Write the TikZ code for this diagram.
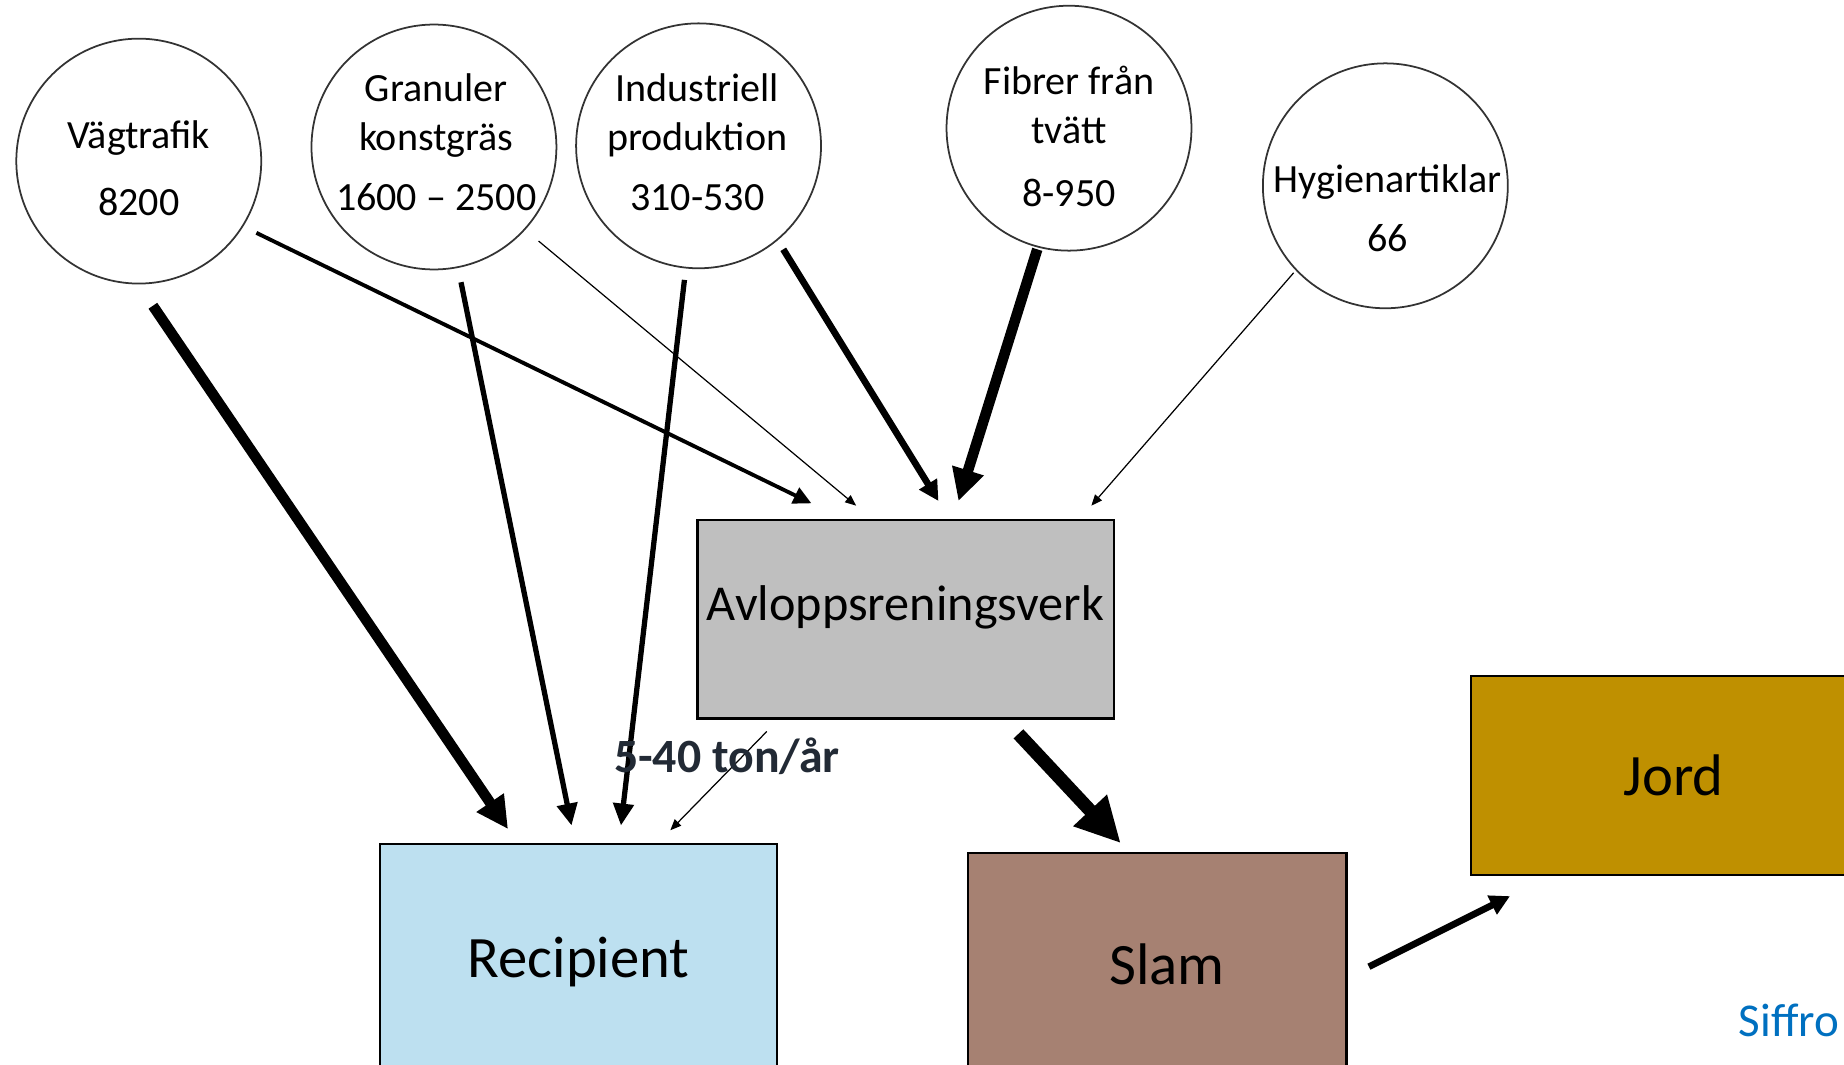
\documentclass[tikz,border=0pt]{standalone}
\usepackage{fontspec}
\setmainfont{Carlito}
\usetikzlibrary{arrows.meta, calc}

\definecolor{avlgray}{RGB}{191,191,191}
\definecolor{recblue}{RGB}{189,224,240}
\definecolor{slambrown}{RGB}{166,129,114}
\definecolor{jordgold}{RGB}{191,144,0}
\definecolor{siffblue}{RGB}{0,112,192}
\definecolor{fluxdark}{RGB}{34,42,53}

\begin{document}
\begin{tikzpicture}[x=0.01176cm, y=-0.01176cm,
    src/.style={circle, draw=black!80, line width=0.5pt, minimum size=2.45cm, inner sep=0pt},
    srctext/.style={align=center, font=\fontsize{11.4}{14}\selectfont},
    box/.style={draw, line width=0.6pt, inner sep=0pt, font=\fontsize{16.7}{20}\selectfont},
    hair/.style={line width=0.35pt, -{Triangle[length=1.1mm, width=0.9mm]}},
    mid/.style={line width=1.1pt, -{Triangle[length=1.8mm, width=1.7mm]}},
    stout/.style={line width=1.5pt, -{Triangle[length=2.2mm, width=2mm]}},
    fat/.style={line width=1.9pt, -{Triangle[length=2mm, width=2mm]}},
    huge/.style={line width=3pt, -{Triangle[length=3.2mm, width=3.1mm]}},
    heavy/.style={line width=3.8pt, -{Triangle[length=4.5mm, width=4.3mm]}}]
    \useasboundingbox (0,0) rectangle (1568,905);

    % sources
    \node[src] (veg) at (118,137) {};
    \node[src] (gran) at (369,125) {};
    \node[src] (ind) at (594,124) {};
    \node[src] (fib) at (909,109) {};
    \node[src] (hyg) at (1178,158) {};
    \node[srctext] (veg-t) at ($(veg)+(0,6)$) {Vägtrafik\\[5pt]8200};
    \node[srctext] (gran-t) at ($(gran)+(2,-4)$) {Granuler\\konstgräs\\[3pt]1600 -- 2500};
    \node[srctext] (ind-t) at ($(ind)+(-1,-3)$) {Industriell\\produktion\\[3pt]310-530};
    \node[srctext] (fib-t) at ($(fib)+(0,7)$) {Fibrer från\\tvätt\\[4pt]8-950};
    \node[srctext] (hyg-t) at ($(hyg)+(2,19)$) {Hygienartiklar\\[3pt]66};

    % boxes
    \node[box, fill=avlgray, minimum width=4.163cm, minimum height=1.987cm] (arv) at (770,526.5) {};
    \node[font=\fontsize{14.3}{17}\selectfont] (arv-t) at ($(arv)+(0,-10)$) {Avloppsreningsverk};
    \node[box, fill=recblue, minimum width=3.975cm, minimum height=2.352cm] (rec) at (492,818) {Recipient};
    \node[box, fill=slambrown, minimum width=3.787cm, minimum height=2.234cm] (slam) at (984,820) {\hspace*{2mm}Slam};
    \node[box, fill=jordgold, minimum width=4.045cm, minimum height=1.987cm] (jord) at (1423,659.5) {Jord};

    % flows
    \draw[huge] ($(veg)+(12,123)$) -- ($(rec)+(-60,-113)$);
    \draw[mid] ($(veg)+(100,61)$) -- ($(arv)+(-80,-98.5)$);
    \draw[hair] ($(gran)+(89,80)$) -- ($(arv)+(-42,-96.5)$);
    \draw[stout] ($(gran)+(23,115)$) -- ($(rec)+(-6,-116)$);
    \draw[stout] ($(ind)+(-12,114)$) -- ($(rec)+(36,-116)$);
    \draw[fat] ($(ind)+(72,88)$) -- ($(arv)+(28,-100.5)$);
    \draw[huge] ($(fib)+(-27,103)$) -- ($(arv)+(45,-100.5)$);
    \draw[hair] ($(hyg)+(-78,74)$) -- ($(arv)+(158,-96.5)$);
    \draw[hair] ($(arv)+(-118,95.5)$) -- ($(rec)+(78,-112)$);
    \draw[heavy] ($(arv)+(96,97.5)$) -- ($(slam)+(-31,-103)$);
    \draw[fat] ($(slam)+(180,2)$) -- ($(jord)+(-139,102.5)$);

    \node[font=\bfseries\fontsize{13.6}{16}\selectfont, text=fluxdark] (flux) at (618,643) {5-40 ton/år};
    \node[anchor=west, inner sep=0pt, text=siffblue, font=\fontsize{13.4}{16}\selectfont] (siff) at (1478,868) {Siffro};
\end{tikzpicture}
\end{document}
